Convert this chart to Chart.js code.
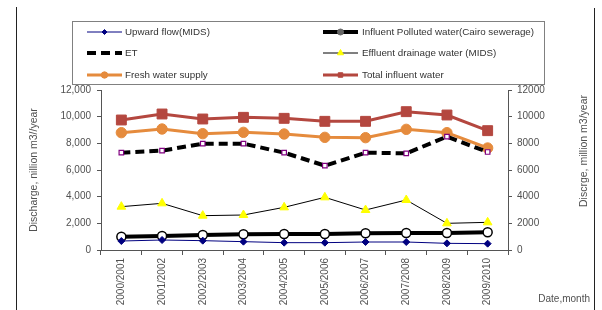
<!DOCTYPE html>
<html>
<head>
<meta charset="utf-8">
<script src="https://cdn.jsdelivr.net/npm/chart.js@4.4.1/dist/chart.umd.min.js"></script>
<style>
html,body{margin:0;padding:0;background:#fff;}
#wrap{position:relative;width:602px;height:310px;}
</style>
</head>
<body>
<div id="wrap"><canvas id="c" width="602" height="310"></canvas></div>
<script>
const categories = ["2000/2001","2001/2002","2002/2003","2003/2004","2004/2005","2005/2006","2006/2007","2007/2008","2008/2009","2009/2010"];
const upwardFlow = [675, 750, 700, 625, 550, 550, 600, 600, 500, 475];
const influentPolluted = [1000, 1050, 1125, 1175, 1200, 1200, 1250, 1275, 1275, 1325];
const et = [7300, 7450, 7975, 7975, 7300, 6325, 7300, 7250, 8500, 7350];
const effluentDrainage = [3250, 3500, 2575, 2625, 3200, 3950, 3000, 3750, 2000, 2075];
const freshWater = [8800, 9075, 8725, 8825, 8700, 8450, 8425, 9050, 8800, 7650];
const totalInfluent = [9750, 10200, 9825, 9950, 9875, 9650, 9650, 10375, 10125, 8950];
const yTicks = [0, 2000, 4000, 6000, 8000, 10000, 12000];
const seriesNames = ["Upward flow(MIDS)", "Influent Polluted water(Cairo sewerage)", "ET", "Effluent drainage water (MIDS)", "Fresh water supply", "Total influent water"];
const leftTitle = "Discharge, nillion m3//year";
const rightTitle = "Discrge, million m3/year";
const xTitle = "Date,month";

const FONT = "'Liberation Sans', Arial, sans-serif";
const TXT = "#505050";
const AX = "#555";

const datasets = [
  {label: seriesNames[0], data: upwardFlow, borderColor: "#000080", backgroundColor: "#000080", borderWidth: 1,
   pointStyle: "rectRot", pointRadius: 3.5, pointBackgroundColor: "#000080", pointBorderColor: "#000080", pointBorderWidth: 1},
  {label: seriesNames[1], data: influentPolluted, borderColor: "#000", backgroundColor: "#fff", borderWidth: 4,
   pointStyle: "circle", pointRadius: 4.5, pointBackgroundColor: "#fff", pointBorderColor: "#000", pointBorderWidth: 1.5},
  {label: seriesNames[2], data: et, borderColor: "#000", backgroundColor: "#fff", borderWidth: 4, borderDash: [9, 5],
   pointStyle: "rect", pointRadius: 3.2, pointBackgroundColor: "#fff", pointBorderColor: "#800080", pointBorderWidth: 1.2},
  {label: seriesNames[3], data: effluentDrainage, borderColor: "#000", backgroundColor: "#FFFF00", borderWidth: 1,
   pointStyle: "triangle", pointRadius: 5, pointBackgroundColor: "#FFFF00", pointBorderColor: "#FFFF00", pointBorderWidth: 1},
  {label: seriesNames[4], data: freshWater, borderColor: "#E58B3D", backgroundColor: "#E58B3D", borderWidth: 3,
   pointStyle: "circle", pointRadius: 5.2, pointBackgroundColor: "#E58B3D", pointBorderColor: "#E58B3D", pointBorderWidth: 1},
  {label: seriesNames[5], data: totalInfluent, borderColor: "#B4473F", backgroundColor: "#B4473F", borderWidth: 3,
   pointStyle: "rect", pointRadius: 7, pointBackgroundColor: "#B4473F", pointBorderColor: "#B4473F", pointBorderWidth: 1}
];

const extrasPlugin = {
  id: "extras",
  afterDraw(chart) {
    const ctx = chart.ctx;
    ctx.save();
    // outer frame lines
    ctx.strokeStyle = "#222";
    ctx.lineWidth = 1;
    ctx.beginPath();
    ctx.moveTo(16.5, 7); ctx.lineTo(16.5, 310);
    ctx.moveTo(594.5, 8); ctx.lineTo(594.5, 310);
    ctx.stroke();

    // legend box
    ctx.fillStyle = "#fff";
    ctx.fillRect(72, 21, 472, 64);
    ctx.strokeStyle = "#808080";
    ctx.lineWidth = 1;
    ctx.strokeRect(72.5, 21.5, 472, 63);
    const rowsY = [32, 53, 75];
    const colX = [87, 323];
    const lineLen = 35;
    const textX = [125, 362];
    chart.data.datasets.forEach((ds, i) => {
      const col = i % 2, row = Math.floor(i / 2);
      const y = rowsY[row];
      const x0 = colX[col];
      ctx.save();
      ctx.strokeStyle = ds.borderColor;
      ctx.lineWidth = ds.borderWidth;
      ctx.setLineDash(ds.borderDash || []);
      ctx.beginPath();
      ctx.moveTo(x0, y); ctx.lineTo(x0 + lineLen, y);
      ctx.stroke();
      ctx.setLineDash([]);
      if (i !== 2) {
        ctx.fillStyle = ds.pointBackgroundColor;
        ctx.strokeStyle = ds.pointBorderColor;
        ctx.lineWidth = 1;
        const r = i === 1 ? 3 : (i === 0 ? 2.5 : (i === 3 ? 3.5 : 3.2));
        const opts = {pointStyle: ds.pointStyle, radius: r, rotation: 0, borderWidth: 1};
        if (i === 1) { ctx.fillStyle = "#666"; ctx.strokeStyle = "#666"; }
        Chart.helpers.drawPoint(ctx, opts, x0 + lineLen / 2, y);
      }
      ctx.restore();
      ctx.fillStyle = "#333";
      ctx.font = "9.8px " + FONT;
      ctx.textBaseline = "middle";
      ctx.textAlign = "left";
      ctx.fillText(ds.label, textX[col], y + 0.5);
    });

    // right axis title (reads bottom-to-top)
    ctx.fillStyle = TXT;
    ctx.font = "10.5px " + FONT;
    ctx.textAlign = "center";
    ctx.textBaseline = "middle";
    ctx.save();
    ctx.translate(584, 151);
    ctx.rotate(-Math.PI / 2);
    ctx.fillText(rightTitle, 0, 0);
    ctx.restore();

    // x title
    ctx.font = "10px " + FONT;
    ctx.textAlign = "right";
    ctx.textBaseline = "alphabetic";
    ctx.fillText(xTitle, 590, 302);
    ctx.restore();
  }
};

new Chart(document.getElementById("c"), {
  type: "line",
  data: {labels: categories, datasets: datasets},
  options: {
    responsive: false,
    animation: false,
    devicePixelRatio: 1,
    layout: {padding: {left: 0, right: 0, top: 90, bottom: 0}},
    plugins: {legend: {display: false}, tooltip: {enabled: false}, title: {display: false}},
    elements: {line: {tension: 0}},
    scales: {
      x: {
        type: "category",
        offset: true,
        grid: {display: true, offset: true, drawOnChartArea: false, tickLength: 5, color: AX, tickColor: AX},
        border: {display: true, color: AX, width: 1},
        ticks: {color: TXT, font: {family: FONT, size: 10}, minRotation: 90, maxRotation: 90, padding: 3, autoSkip: false},
        afterFit(s) { s.height = 60; }
      },
      y: {
        position: "left",
        min: 0, max: 12000,
        afterBuildTicks(s) { s.ticks = yTicks.map(v => ({value: v})); },
        grid: {display: true, drawOnChartArea: false, tickLength: 4, color: AX, tickColor: AX},
        border: {display: true, color: AX, width: 1},
        ticks: {color: TXT, font: {family: FONT, size: 10}, padding: 6,
                callback: v => v.toLocaleString("en-US")},
        title: {display: true, text: leftTitle, color: TXT, font: {family: FONT, size: 10.5}, padding: {top: 28, bottom: 0}},
        afterFit(s) { s.width = 101; }
      },
      y2: {
        position: "right",
        min: 0, max: 12000,
        afterBuildTicks(s) { s.ticks = yTicks.map(v => ({value: v})); },
        grid: {display: true, drawOnChartArea: false, tickLength: 4, color: AX, tickColor: AX},
        border: {display: true, color: AX, width: 1},
        ticks: {color: TXT, font: {family: FONT, size: 10}, padding: 5, callback: v => String(v)},
        afterFit(s) { s.width = 94; }
      }
    }
  },
  plugins: [extrasPlugin]
});
</script>
</body>
</html>
